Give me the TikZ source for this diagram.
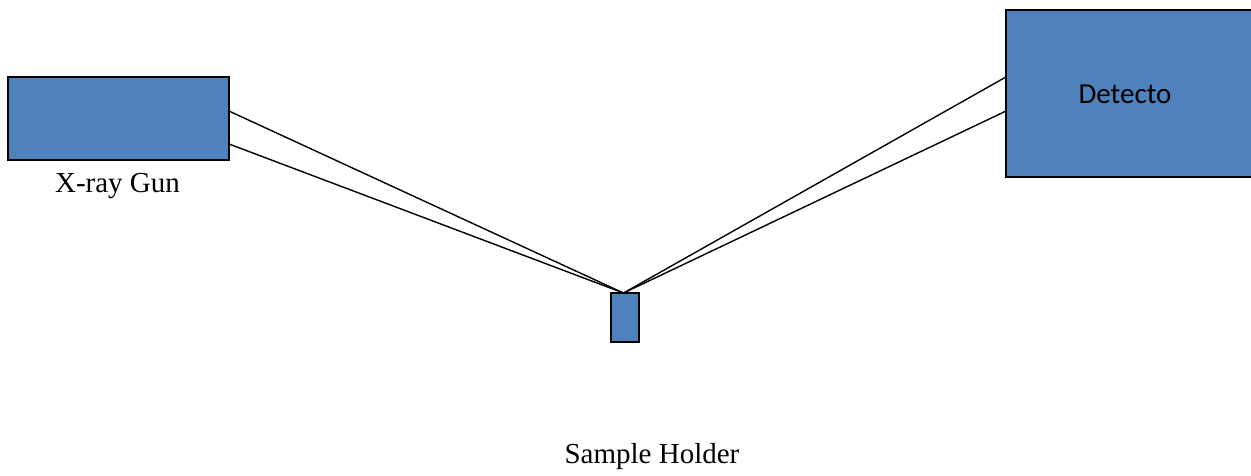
\documentclass[tikz,border=0pt]{standalone}
\usepackage{fontspec}
\setmainfont{Liberation Serif}
\newfontfamily\calib{Carlito}
\usetikzlibrary{calc}
\definecolor{boxblue}{HTML}{4F81BD}
\begin{document}
\begin{tikzpicture}[x=1pt,y=-1pt,
  bluebox/.style={draw=black, line width=2pt, fill=boxblue, inner sep=0pt, outer sep=0pt},
  ray/.style={draw=black, line width=1.4pt},
  lbl/.style={font=\fontsize{29}{34}\selectfont, inner sep=0pt}]
\useasboundingbox (0,0) rectangle (1251,475);
\fill[white] (0,0) rectangle (1251,475);
\node[bluebox, minimum width=221pt, minimum height=83pt] (gun) at (118.5,118.5) {};
\node[bluebox, minimum width=250pt, minimum height=167pt] (det) at (1131,93.5) {};
\node[bluebox, minimum width=28pt, minimum height=49pt] (sample) at (625,317.5) {};
\coordinate (s) at (623.5,293);
\coordinate (g1) at ($(gun.north east)!0.41!(gun.south east)$);
\coordinate (g2) at ($(gun.north east)!0.807!(gun.south east)$);
\coordinate (d1) at ($(det.north west)!0.401!(det.south west)$);
\coordinate (d2) at ($(det.north west)!0.605!(det.south west)$);
\draw[ray] (g1) -- (s);
\draw[ray] (g2) -- (s);
\draw[ray] (d1) -- (s);
\draw[ray] (d2) -- (s);
\node[lbl, anchor=base] (gunlbl) at (117.5,192) {X-ray Gun};
\node[lbl, anchor=base, font=\calib\fontsize{29}{34}\selectfont] (detlbl) at (1125,103) {Detecto};
\node[lbl, anchor=base] (samplbl) at (652,463) {Sample Holder};
\end{tikzpicture}
\end{document}
